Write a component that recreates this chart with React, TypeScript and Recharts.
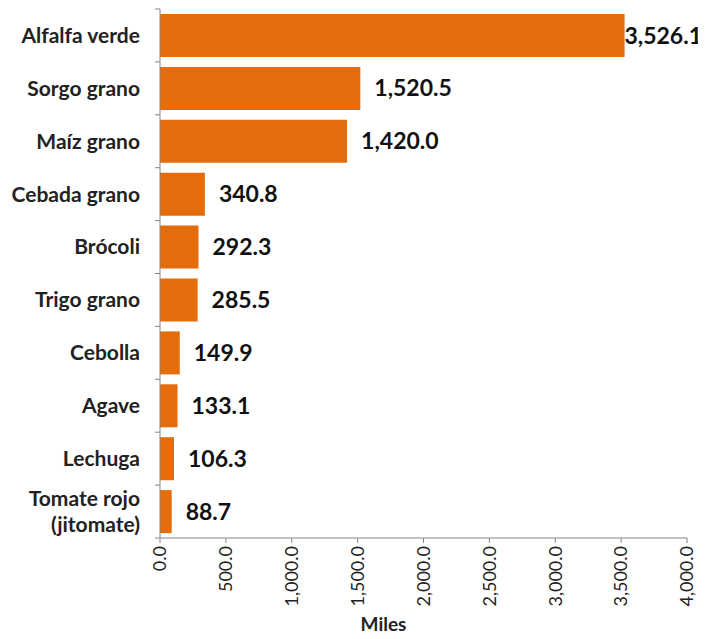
import React from "react";
import { BarChart, Bar, XAxis, YAxis, LabelList } from "recharts";

const categories = [
  "Alfalfa verde",
  "Sorgo grano",
  "Maíz grano",
  "Cebada grano",
  "Brócoli",
  "Trigo grano",
  "Cebolla",
  "Agave",
  "Lechuga",
  "Tomate rojo (jitomate)",
];
const values = [3526.1, 1520.5, 1420.0, 340.8, 292.3, 285.5, 149.9, 133.1, 106.3, 88.7];
const xTicks = [0, 500, 1000, 1500, 2000, 2500, 3000, 3500, 4000];

const data = categories.map((name, i) => ({ name, value: values[i] }));

const FONT = "Lato, 'DejaVu Sans', sans-serif";
const fmt = (v: number) =>
  v.toLocaleString("en-US", { minimumFractionDigits: 1, maximumFractionDigits: 1 });

const W = 698;
const H = 631;
const BAND = 52.9;

const CategoryTick = (props: any) => {
  const { x, y, payload, index } = props;
  const val: string = payload.value;
  const lines = val.includes(" (") ? [val.slice(0, val.indexOf(" (")), val.slice(val.indexOf(" (") + 1)] : [val];
  const lx = x - 20;
  return (
    <g>
      <line x1={x - 5} x2={x} y1={y - BAND / 2} y2={y - BAND / 2} stroke="#868686" />
      {index === categories.length - 1 && (
        <line x1={x - 5} x2={x} y1={y + BAND / 2} y2={y + BAND / 2} stroke="#868686" />
      )}
      <text
        x={lx}
        y={y}
        textAnchor="end"
        fill="#222"
        fontFamily={FONT}
        fontWeight="bold"
        fontSize={21}
      >
        {lines.map((l, i) => (
          <tspan key={i} x={lx} dy={i === 0 ? `${0.35 - (lines.length - 1) * 0.62}em` : "1.24em"}>
            {l}
          </tspan>
        ))}
      </text>
    </g>
  );
};

const ValueTick = (props: any) => {
  const { x, y, payload } = props;
  return (
    <text
      x={x}
      y={y}
      transform={`rotate(-90, ${x}, ${y})`}
      textAnchor="end"
      dy="0.35em"
      fill="#222"
      fontFamily={FONT}
      fontSize={18}
    >
      {fmt(payload.value)}
    </text>
  );
};

const ValueLabel = (props: any) => {
  const { x, y, width, height, value } = props;
  let lx = x + width + 14;
  let anchor = "start";
  if (lx + 82 > W) {
    lx = W - 4;
    anchor = "end";
  }
  return (
    <text
      x={lx}
      y={y + height / 2}
      dy="0.35em"
      textAnchor={anchor}
      fill="#111"
      fontFamily={FONT}
      fontWeight="bold"
      fontSize={23}
    >
      {fmt(value)}
    </text>
  );
};

export default function App() {
  return (
    <BarChart
      width={W}
      height={H}
      data={data}
      layout="vertical"
      margin={{ top: 1, right: 19, bottom: 0, left: 0 }}
      barCategoryGap={5}
    >
      <XAxis
        type="number"
        domain={[0, 4000]}
        ticks={xTicks}
        interval={0}
        height={101}
        tickSize={5}
        tickMargin={3}
        stroke="#868686"
        tick={<ValueTick />}
        label={{
          value: "Miles",
          position: "insideBottom",
          offset: 8,
          dx: -40,
          style: { fontFamily: FONT, fontWeight: "bold", fontSize: 19, fill: "#222" },
        }}
      />
      <YAxis
        type="category"
        dataKey="name"
        width={152}
        interval={0}
        tickSize={0}
        tickMargin={0}
        tickLine={false}
        stroke="#868686"
        tick={<CategoryTick />}
      />
      <Bar dataKey="value" fill="#E46C0A" isAnimationActive={false}>
        <LabelList dataKey="value" content={<ValueLabel />} />
      </Bar>
    </BarChart>
  );
}
